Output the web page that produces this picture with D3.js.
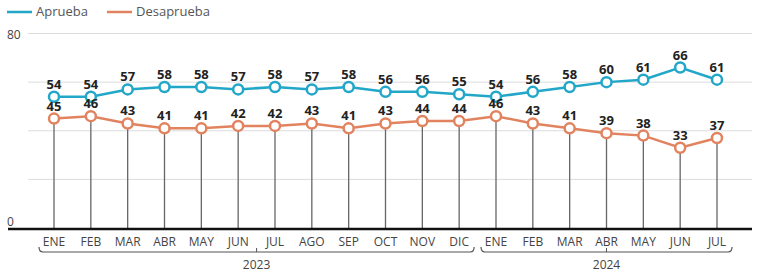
<!DOCTYPE html>
<html>
<head>
<meta charset="utf-8">
<style>
body { margin:0; background:#fff; }
text { font-family:"Open Sans","Liberation Sans",sans-serif; }
</style>
<script src="https://cdn.jsdelivr.net/npm/d3@7"></script>
</head>
<body>
<div id="chart"></div>
<script>
var months = ["ENE","FEB","MAR","ABR","MAY","JUN","JUL","AGO","SEP","OCT","NOV","DIC",
              "ENE","FEB","MAR","ABR","MAY","JUN","JUL"];
var years = [{label:"2023", from:0, to:11}, {label:"2024", from:12, to:18}];
var aprueba    = [54,54,57,58,58,57,58,57,58,56,56,55,54,56,58,60,61,66,61];
var desaprueba = [45,46,43,41,41,42,42,43,41,43,44,44,46,43,41,39,38,33,37];
var yTicks = [0,20,40,60,80];
var series = [
    {name:"Aprueba", values:aprueba, color:"#22a7c9"},
    {name:"Desaprueba", values:desaprueba, color:"#e2835f"}
];

var width = 761, height = 275;
var svg = d3.select("#chart").append("svg")
    .attr("width", width)
    .attr("height", height);

var x = d3.scalePoint().domain(d3.range(months.length)).range([54, 717]);
var y = d3.scaleLinear().domain([0, 80]).range([228, 33.5]);

// gridlines
svg.selectAll("line.grid")
    .data(yTicks.filter(function(d) { return d > 0; }))
    .enter().append("line")
        .attr("class", "grid")
        .attr("x1", 28).attr("x2", 752)
        .attr("y1", function(d) { return y(d); })
        .attr("y2", function(d) { return y(d); })
        .style("stroke", "#dcdcdc")
        .style("stroke-width", "1px");

svg.selectAll("text.ytick")
    .data([0, 80])
    .enter().append("text")
        .attr("class", "ytick")
        .attr("x", 7)
        .attr("y", function(d) { return d === 0 ? y(d) - 2 : y(d) + 5; })
        .text(function(d) { return d; })
        .style("font-size", "12px")
        .style("fill", "#444");

// drop lines
svg.selectAll("line.drop")
    .data(desaprueba)
    .enter().append("line")
        .attr("class", "drop")
        .attr("x1", function(d, i) { return x(i); })
        .attr("x2", function(d, i) { return x(i); })
        .attr("y1", function(d) { return y(d); })
        .attr("y2", y(0))
        .style("stroke", "#666")
        .style("stroke-width", "1.3px");

// baseline
svg.append("line")
    .attr("x1", 8).attr("x2", 752)
    .attr("y1", y(0) + 1).attr("y2", y(0) + 1)
    .style("stroke", "#111")
    .style("stroke-width", "2.5px");

var line = d3.line()
    .x(function(d, i) { return x(i); })
    .y(function(d) { return y(d); });

series.forEach(function(s) {
    svg.append("path")
        .datum(s.values)
        .attr("d", line)
        .style("fill", "none")
        .style("stroke", s.color)
        .style("stroke-width", "2.5px");
    svg.selectAll("circle." + s.name)
        .data(s.values)
        .enter().append("circle")
            .attr("class", s.name)
            .attr("cx", function(d, i) { return x(i); })
            .attr("cy", function(d) { return y(d); })
            .attr("r", 5)
            .style("fill", "#fff")
            .style("stroke", s.color)
            .style("stroke-width", "2.5px");
    svg.selectAll("text.lbl" + s.name)
        .data(s.values)
        .enter().append("text")
            .attr("class", "lbl" + s.name)
            .attr("x", function(d, i) { return x(i); })
            .attr("y", function(d) { return y(d) - 8; })
            .attr("text-anchor", "middle")
            .text(function(d) { return d; })
            .style("font-size", "13px")
            .style("font-weight", "bold")
            .style("fill", "#222");
});

// month labels
svg.selectAll("text.month")
    .data(months)
    .enter().append("text")
        .attr("class", "month")
        .attr("x", function(d, i) { return x(i); })
        .attr("y", 246)
        .attr("text-anchor", "middle")
        .text(function(d) { return d; })
        .style("font-size", "12px")
        .style("fill", "#444");

// year brackets
years.forEach(function(yr) {
    var x0 = x(yr.from) - 15, x1 = x(yr.to) + 15, yb = 252;
    svg.append("path")
        .attr("d", "M" + x0 + "," + (yb - 5) + " Q" + x0 + "," + yb + " " + (x0 + 4) + "," + yb +
                   " L" + (x1 - 4) + "," + yb + " Q" + x1 + "," + yb + " " + x1 + "," + (yb - 5))
        .style("fill", "none")
        .style("stroke", "#555")
        .style("stroke-width", "1.2px");
    var mid = (x0 + x1) / 2;
    svg.append("line")
        .attr("x1", mid).attr("x2", mid)
        .attr("y1", yb - 4).attr("y2", yb)
        .style("stroke", "#555");
    svg.append("text")
        .attr("x", mid)
        .attr("y", 269)
        .attr("text-anchor", "middle")
        .text(yr.label)
        .style("font-size", "12px")
        .style("fill", "#444");
});

// legend
var legend = svg.selectAll("g.legend")
    .data(series)
    .enter().append("g")
        .attr("class", "legend")
        .attr("transform", function(d, i) { return "translate(" + (7 + i * 100) + ",0)"; });
legend.append("line")
    .attr("x1", 0).attr("x2", 25)
    .attr("y1", 12).attr("y2", 12)
    .style("stroke", function(d) { return d.color; })
    .style("stroke-width", "2.5px");
legend.append("text")
    .attr("x", 29).attr("y", 16)
    .text(function(d) { return d.name; })
    .style("font-size", "13px")
    .style("fill", "#555");
</script>
</body>
</html>
